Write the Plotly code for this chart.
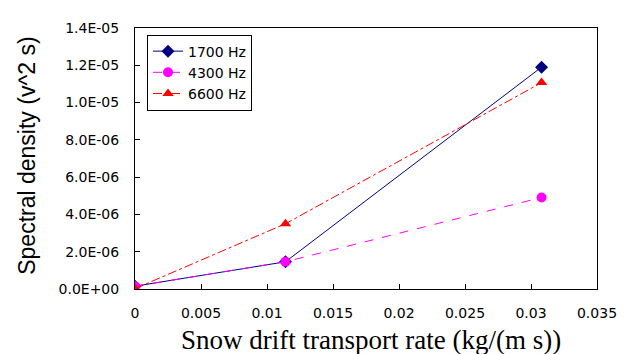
import plotly.graph_objects as go

rate = [0.0, 0.0114, 0.0308]
s1700 = [1.5e-7, 1.46e-6, 1.19e-5]
s4300 = [1.5e-7, 1.46e-6, 4.91e-6]
s6600 = [2e-8, 3.5e-6, 1.107e-5]
names = ["1700 Hz", "4300 Hz", "6600 Hz"]
ytickvals = [0, 2e-6, 4e-6, 6e-6, 8e-6, 1e-5, 1.2e-5, 1.4e-5]
yticktext = ["0.0E+00", "2.0E-06", "4.0E-06", "6.0E-06", "8.0E-06", "1.0E-05", "1.2E-05", "1.4E-05"]
xtickvals = [0, 0.005, 0.01, 0.015, 0.02, 0.025, 0.03, 0.035]
xticktext = ["0", "0.005", "0.01", "0.015", "0.02", "0.025", "0.03", "0.035"]
xtitle = "Snow drift transport rate (kg/(m s))"
ytitle = "Spectral density (v^2 s)"

fig = go.Figure()
fig.add_trace(go.Scatter(x=rate, y=s1700, name=names[0], mode="lines+markers",
                         line=dict(color="#000080", width=1),
                         marker=dict(symbol="diamond", size=10, color="#000080")))
fig.add_trace(go.Scatter(x=rate, y=s4300, name=names[1], mode="lines+markers",
                         line=dict(color="#FF00FF", width=1, dash="dash"),
                         marker=dict(symbol="circle", size=10, color="#FF00FF")))
fig.add_trace(go.Scatter(x=rate, y=s6600, name=names[2], mode="lines+markers",
                         line=dict(color="#FF0000", width=1, dash="dashdot"),
                         marker=dict(symbol="triangle-up", size=10, color="#FF0000")))

fig.update_layout(
    width=633, height=354,
    margin=dict(l=127, r=44, t=13, b=73),
    paper_bgcolor="white", plot_bgcolor="white",
    font=dict(family="DejaVu Sans, Arial", color="black", size=14),
    showlegend=True,
    legend=dict(x=0.026, y=0.975, xanchor="left", yanchor="top",
                bgcolor="white", bordercolor="black", borderwidth=1,
                font=dict(size=14), tracegroupgap=0, itemwidth=30),
    xaxis=dict(range=[0, 0.035], tickvals=xtickvals, ticktext=xticktext,
               ticks="inside", ticklen=5, tickcolor="black", ticklabelstandoff=11,
               showline=True, linecolor="black", linewidth=1, mirror=True,
               showgrid=False, zeroline=False),
    yaxis=dict(range=[0, 1.4e-5], tickvals=ytickvals, ticktext=yticktext,
               ticks="inside", ticklen=5, tickcolor="black", ticklabelstandoff=12,
               showline=True, linecolor="black", linewidth=1, mirror=True,
               showgrid=False, zeroline=False),
    annotations=[
        dict(text=xtitle, xref="paper", yref="paper", x=0.51, y=0,
             xanchor="center", yanchor="middle", yshift=-51, showarrow=False,
             font=dict(family="Liberation Serif, Times New Roman", size=27)),
        dict(text=ytitle, xref="paper", yref="paper", x=-0.234, y=0.51,
             xanchor="center", yanchor="middle", textangle=-90, showarrow=False,
             font=dict(family="Liberation Sans, Arial", size=23)),
    ],
)
fig.write_html("out.html")
